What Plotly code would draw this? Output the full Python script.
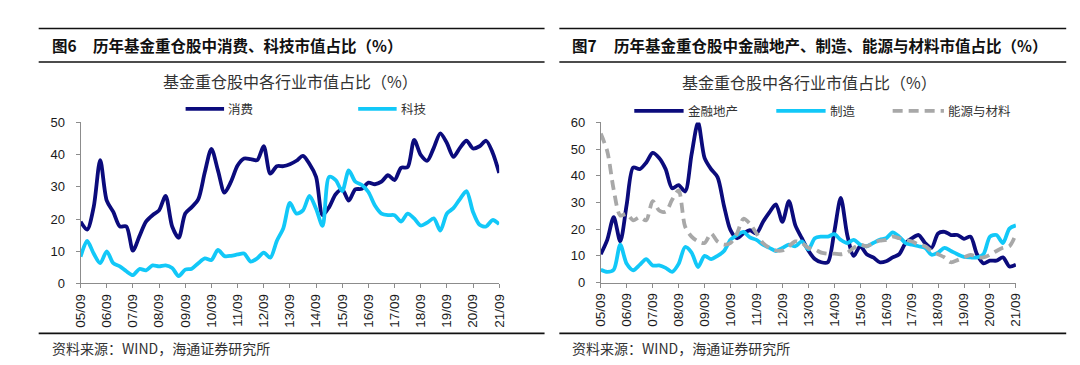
import plotly.graph_objects as go

# ---------------- data (quarterly, 2005/09 .. 2021/09) ----------------
tick_labels = ["05/09", "06/09", "07/09", "08/09", "09/09", "10/09", "11/09", "12/09",
               "13/09", "14/09", "15/09", "16/09", "17/09", "18/09", "19/09", "20/09", "21/09"]

consumer = [19.2, 16.7, 23.7, 38.3, 25.7, 22.2, 17.7, 17.7, 10.2, 14.7,
            19.2, 21.2, 22.7, 27.2, 17.7, 14.2, 21.7, 23.7, 26.2, 34.6,
            41.8, 35.1, 28.2, 31.6, 36.6, 38.8, 38.6, 38.3, 42.6, 34.1,
            36.4, 36.4, 37.0, 38.1, 39.6, 37.1, 33.1, 21.2, 23.7, 27.7,
            29.2, 25.7, 29.2, 29.4, 31.3, 30.8, 31.6, 33.6, 32.1, 35.9,
            36.1, 44.6, 39.9, 38.1, 42.1, 46.6, 43.6, 39.3, 42.1, 44.3,
            41.9, 42.6, 44.3, 40.6, 34.3]

tech = [8.3, 13.2, 9.3, 6.3, 10.0, 6.3, 5.3, 3.8, 2.6, 4.5,
        4.1, 5.6, 5.3, 5.6, 4.8, 2.3, 4.3, 4.6, 6.3, 7.8,
        7.3, 10.4, 8.5, 8.6, 9.0, 9.3, 6.8, 7.8, 9.6, 8.0,
        13.2, 17.2, 25.0, 21.7, 22.7, 27.2, 23.2, 17.9, 33.1, 32.1,
        28.7, 35.1, 31.6, 30.6, 28.4, 24.2, 21.7, 21.2, 21.2, 19.2,
        21.7, 20.2, 18.0, 18.9, 20.2, 16.4, 21.7, 23.4, 26.2, 28.7,
        22.2, 18.2, 17.7, 19.7, 18.4]

finance = [10.6, 16.0, 24.5, 15.4, 29.3, 43.1, 42.5, 44.9, 48.6, 46.7,
           42.5, 35.3, 36.5, 34.1, 48.0, 60.0, 46.7, 42.5, 39.5, 28.7,
           19.6, 16.6, 18.4, 19.6, 18.4, 22.7, 26.3, 29.3, 22.7, 30.5,
           21.4, 16.6, 12.0, 8.8, 7.6, 7.6, 19.0, 31.7, 17.8, 10.0,
           13.6, 10.6, 9.4, 7.6, 8.0, 9.4, 10.6, 14.8, 16.6, 17.8,
           14.8, 13.0, 18.4, 19.0, 17.8, 17.8, 16.4, 17.2, 10.6, 7.2,
           8.2, 8.2, 9.4, 6.0, 6.7]

manufacturing = [4.8, 4.0, 4.8, 14.2, 7.0, 4.6, 6.6, 8.8, 6.4, 6.4,
                 5.5, 4.0, 7.0, 13.3, 11.2, 5.8, 10.0, 8.8, 10.0, 11.8,
                 16.0, 17.8, 19.0, 16.9, 16.0, 14.2, 13.0, 11.8, 13.0, 14.2,
                 13.6, 15.4, 12.4, 16.6, 17.2, 17.2, 18.1, 16.0, 14.8, 16.0,
                 14.2, 13.6, 14.8, 16.0, 16.6, 18.8, 17.2, 14.8, 14.2, 13.6,
                 13.0, 10.4, 11.2, 13.0, 11.8, 10.6, 9.6, 9.4, 9.4, 10.6,
                 17.2, 17.8, 14.8, 20.2, 21.4]

energy = [55.8, 49.2, 34.7, 25.1, 25.7, 23.3, 24.5, 23.3, 30.5, 27.0,
          26.5, 31.0, 34.5, 21.0, 17.2, 15.4, 14.8, 18.4, 15.4, 14.2,
          14.8, 18.4, 23.9, 22.0, 18.4, 14.8, 13.0, 12.0, 12.0, 13.6,
          15.4, 14.8, 13.0, 12.4, 11.2, 10.8, 10.8, 10.6, 11.2, 13.0,
          14.2, 13.6, 14.8, 15.7, 16.0, 17.2, 16.6, 16.0, 15.4, 14.2,
          13.6, 11.8, 10.6, 9.4, 7.6, 8.4, 9.4, 10.4, 9.6, 9.4,
          10.4, 11.8, 13.0, 13.6, 18.1]

quarters = list(range(len(consumer)))
tick_vals = list(range(0, len(consumer), 4))

NAVY = "#0B0B7C"
CYAN = "#12C8F8"
GRAY = "#A8A8A8"
CJK = "Noto Sans CJK SC"
LAT = "Liberation Sans, Arial, sans-serif"
W, H = 1080, 365


def fx(p):
    return p / W


def fy(p):
    return 1 - p / H


fig = go.Figure()

line_kw = dict(shape="spline", smoothing=0.8, width=3.8)

fig.add_trace(go.Scatter(x=quarters, y=consumer, mode="lines", name="消费",
                         line=dict(color=NAVY, **line_kw), xaxis="x", yaxis="y"))
fig.add_trace(go.Scatter(x=quarters, y=tech, mode="lines", name="科技",
                         line=dict(color=CYAN, **line_kw), xaxis="x", yaxis="y"))
fig.add_trace(go.Scatter(x=quarters, y=finance, mode="lines", name="金融地产",
                         line=dict(color=NAVY, **line_kw), xaxis="x2", yaxis="y2"))
fig.add_trace(go.Scatter(x=quarters, y=manufacturing, mode="lines", name="制造",
                         line=dict(color=CYAN, **line_kw), xaxis="x2", yaxis="y2"))
fig.add_trace(go.Scatter(x=quarters, y=energy, mode="lines", name="能源与材料",
                         line=dict(color=GRAY, dash="10px,6px", **line_kw), xaxis="x2", yaxis="y2"))

xax = dict(range=[0, 64], tickmode="array", tickvals=tick_vals, ticktext=tick_labels,
           tickangle=-90, showline=True, linecolor="#8c8c8c", linewidth=1,
           ticks="outside", ticklen=4, tickcolor="#8c8c8c", showgrid=False, zeroline=False,
           tickfont=dict(family=LAT, size=13.5, color="#1a1a1a"), fixedrange=True)
yax = dict(showline=True, linecolor="#8c8c8c", linewidth=1, ticks="outside", ticklen=4,
           tickcolor="#8c8c8c", showgrid=False, zeroline=False, dtick=10,
           tickfont=dict(family=LAT, size=13, color="#1a1a1a"), ticklabelstandoff=8,
           fixedrange=True)

fig.update_layout(
    width=W, height=H, autosize=False,
    margin=dict(l=0, r=0, t=0, b=0),
    paper_bgcolor="white", plot_bgcolor="white",
    showlegend=False,
    xaxis=dict(domain=[fx(65.5), fx(490)], anchor="y", **xax),
    yaxis=dict(domain=[fy(280), fy(112)], anchor="x", range=[0, 50], **yax),
    xaxis2=dict(domain=[fx(593), fx(1014)], anchor="y2", **xax),
    yaxis2=dict(domain=[fy(279), fy(112)], anchor="x2", range=[0, 60], **yax),
)

shapes = []
annotations = []


def hline(x0, x1, y, width=1.5, color="#111"):
    shapes.append(dict(type="line", xref="paper", yref="paper", x0=fx(x0), x1=fx(x1),
                       y0=fy(y), y1=fy(y), line=dict(color=color, width=width)))


def text(x, y, s, size, anchor="left", color="#222", family=CJK):
    annotations.append(dict(xref="paper", yref="paper", x=fx(x), y=fy(y), text=s,
                            showarrow=False, xanchor=anchor, yanchor="middle",
                            font=dict(family=family, size=size, color=color),
                            borderpad=0))


def legend_item(x0, x1, y, color, label, dash="solid"):
    shapes.append(dict(type="line", xref="paper", yref="paper", x0=fx(x0), x1=fx(x1),
                       y0=fy(y), y1=fy(y), line=dict(color=color, width=3.8, dash=dash)))
    text(x1 + 3, y, label, 12.5, color="#333")


# panel frames
for (a, b) in [(23, 536), (551, 1065)]:
    hline(a, b, 14)
    hline(a, b, 49)
    hline(a, b, 332, width=1.8)

# titles
text(35, 31.5, "<b>图6</b>", 15.5, color="#111")
text(77, 31.5, "<b>历年基金重仓股中消费、科技市值占比（%）</b>", 15.5, color="#111")
text(563, 31.5, "<b>图7</b>", 15.5, color="#111")
text(605, 31.5, "<b>历年基金重仓股中金融地产、制造、能源与材料市值占比（%）</b>", 15.5, color="#111")

# chart subtitles
text(278, 68.5, "基金重仓股中各行业市值占比（%）", 16, anchor="center", color="#333")
text(805, 70, "基金重仓股中各行业市值占比（%）", 16, anchor="center", color="#333")

# legends
legend_item(172, 211, 98, NAVY, "消费")
legend_item(347, 386, 98, CYAN, "科技")
legend_item(627, 677, 100, NAVY, "金融地产")
legend_item(771, 821, 100, CYAN, "制造")
legend_item(889, 941, 100, GRAY, "能源与材料", dash="10px,6px")

# sources
text(35, 347, "资料来源：WIND，海通证券研究所", 14, color="#333")
text(563, 347, "资料来源：WIND，海通证券研究所", 14, color="#333")

fig.update_layout(shapes=shapes, annotations=annotations)

fig.write_html("out.html")
